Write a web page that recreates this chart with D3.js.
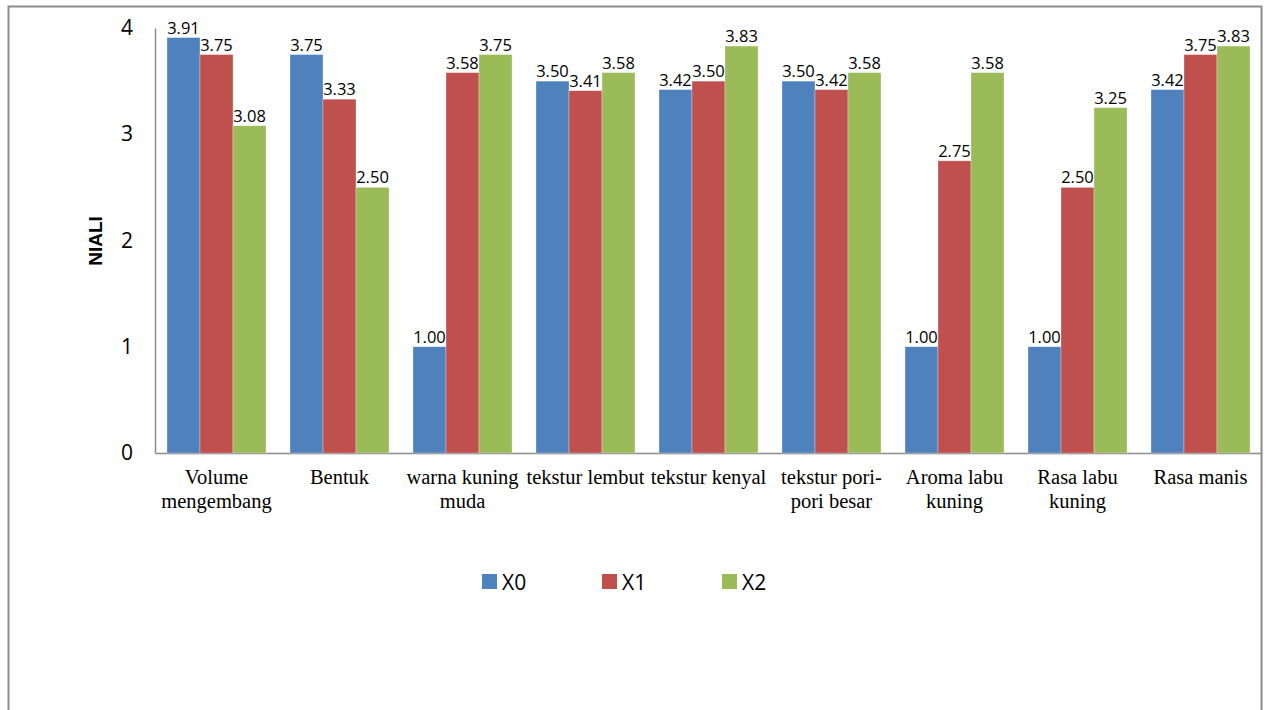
<!DOCTYPE html>
<html>
<head>
<meta charset="utf-8">
<script src="https://cdn.jsdelivr.net/npm/d3@7"></script>
<style>
  body { margin: 0; background: #fff; }
  svg { display: block; }
</style>
</head>
<body>
<div id="chart"></div>
<script>
// data
var categories = ["Volume mengembang", "Bentuk", "warna kuning muda", "tekstur lembut",
  "tekstur kenyal", "tekstur pori-pori besar", "Aroma labu kuning", "Rasa labu kuning", "Rasa manis"];
// how each category label wraps under the axis
var categoryLines = [["Volume", "mengembang"], ["Bentuk"], ["warna kuning", "muda"], ["tekstur lembut"],
  ["tekstur kenyal"], ["tekstur pori-", "pori besar"], ["Aroma labu", "kuning"], ["Rasa labu", "kuning"], ["Rasa manis"]];
var seriesNames = ["X0", "X1", "X2"];
var x0 = [3.91, 3.75, 1.00, 3.50, 3.42, 3.50, 1.00, 1.00, 3.42];
var x1 = [3.75, 3.33, 3.58, 3.41, 3.50, 3.42, 2.75, 2.50, 3.75];
var x2 = [3.08, 2.50, 3.75, 3.58, 3.83, 3.58, 3.58, 3.25, 3.83];
var yTicks = [0, 1, 2, 3, 4];
var colors = ["#4F81BD", "#C0504D", "#9BBB59"];

var series = [x0, x1, x2];

var svgWidth = 1269, svgHeight = 710;
var margin = { top: 28, right: 7, bottom: 257, left: 155 };
var chartWidth = svgWidth - margin.left - margin.right;
var chartHeight = svgHeight - margin.top - margin.bottom;

var svg = d3.select("#chart").append("svg")
  .attr("width", svgWidth)
  .attr("height", svgHeight);

// outer frame
svg.append("rect")
  .attr("x", 8.5).attr("y", 6.5)
  .attr("width", 1253).attr("height", 720)
  .attr("fill", "none")
  .attr("stroke", "#8c8c8c")
  .attr("stroke-width", 2);

var chartGroup = svg.append("g")
  .attr("transform", `translate(${margin.left}, ${margin.top})`);

var yScale = d3.scaleLinear().domain([0, 4]).range([chartHeight, 0]);
var xScale = d3.scaleBand().domain(categories).range([0, chartWidth]).paddingInner(0.195).paddingOuter(0.0975);
var xSub = d3.scaleBand().domain(seriesNames).range([0, xScale.bandwidth()]);

// y axis
var yAxis = chartGroup.append("g")
  .call(d3.axisLeft(yScale).tickValues(yTicks).tickSize(0).tickPadding(22).tickFormat(d3.format("d")));
yAxis.select(".domain").attr("stroke", "#8c8c8c").attr("stroke-width", 1.5);
yAxis.selectAll("text")
  .attr("font-family", "'Open Sans', Lato, sans-serif")
  .attr("font-size", 21)
  .attr("fill", "#000");

// x axis
var xAxis = chartGroup.append("g")
  .attr("transform", `translate(0, ${chartHeight})`)
  .call(d3.axisBottom(xScale).tickSize(0).tickFormat(""));
xAxis.select(".domain").attr("stroke", "#8c8c8c").attr("stroke-width", 1.5);
xAxis.selectAll(".tick").each(function(d, i) {
  var t = d3.select(this).append("text")
    .attr("text-anchor", "middle")
    .attr("font-family", "'Liberation Serif', 'Times New Roman', serif")
    .attr("font-size", 20.5)
    .attr("fill", "#000");
  categoryLines[i].forEach(function(line, j) {
    t.append("tspan").attr("x", 0).attr("y", 31 + j * 24).text(line);
  });
});

// bars
var groups = chartGroup.selectAll(".grp")
  .data(categories)
  .enter().append("g")
  .attr("class", "grp")
  .attr("transform", d => `translate(${xScale(d)}, 0)`);

groups.selectAll("rect")
  .data((d, i) => seriesNames.map((s, k) => ({ s: s, v: series[k][i], k: k })))
  .enter().append("rect")
  .attr("x", d => xSub(d.s))
  .attr("y", d => yScale(d.v))
  .attr("width", xSub.bandwidth())
  .attr("height", d => chartHeight - yScale(d.v))
  .attr("fill", d => colors[d.k])
  .attr("stroke", "rgba(255,255,255,0.5)")
  .attr("stroke-width", 0.6);

groups.selectAll(".lbl")
  .data((d, i) => seriesNames.map((s, k) => ({ s: s, v: series[k][i], k: k })))
  .enter().append("text")
  .attr("class", "lbl")
  .attr("x", d => xSub(d.s) + xSub.bandwidth() / 2)
  .attr("y", d => yScale(d.v) - 4)
  .attr("text-anchor", "middle")
  .attr("font-family", "'Open Sans', Lato, sans-serif")
  .attr("font-size", 16.5)
  .attr("fill", "#000")
  .text(d => d.v.toFixed(2));

// y title
svg.append("text")
  .attr("transform", "translate(102, 241) rotate(-90)")
  .attr("text-anchor", "middle")
  .attr("font-family", "'Liberation Sans', Arial, sans-serif")
  .attr("font-weight", "bold")
  .attr("font-size", 19)
  .attr("fill", "#000")
  .text("NIALI");

// legend
var legend = svg.selectAll(".leg")
  .data(seriesNames)
  .enter().append("g")
  .attr("class", "leg")
  .attr("transform", (d, i) => `translate(${482 + i * 120}, 574)`);
legend.append("rect")
  .attr("width", 15).attr("height", 15)
  .attr("fill", (d, i) => colors[i]);
legend.append("text")
  .attr("x", 20).attr("y", 15.5)
  .attr("font-family", "'Open Sans', Lato, sans-serif")
  .attr("font-size", 21)
  .attr("fill", "#000")
  .text(d => d);
</script>
</body>
</html>
